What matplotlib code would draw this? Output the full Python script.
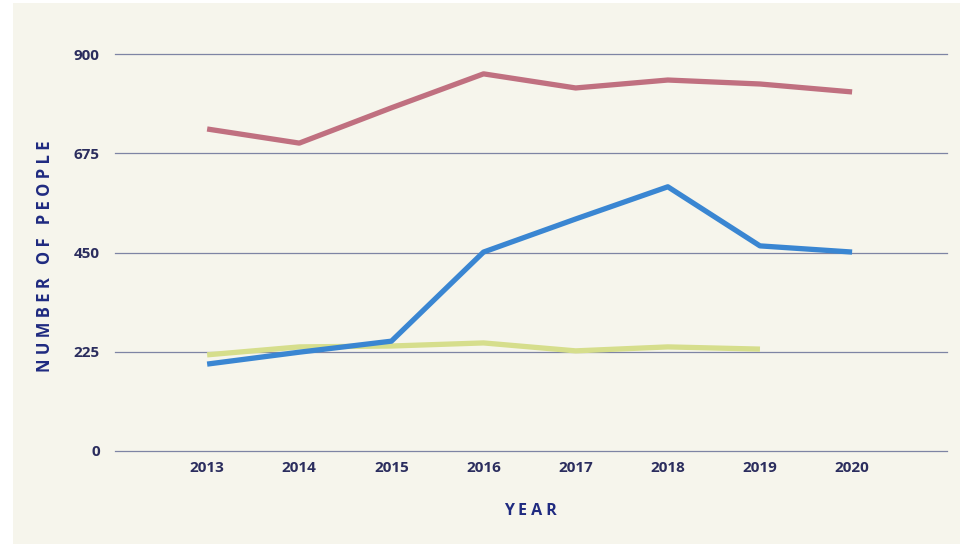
import matplotlib.pyplot as plt
from matplotlib.patches import Rectangle

# --- data ---
years = [2013, 2014, 2015, 2016, 2017, 2018, 2019, 2020]
red_values = [730, 698, 778, 855, 823, 841, 832, 814]
blue_values = [197, 224, 249, 451, 526, 599, 465, 451]
green_years = [2013, 2014, 2015, 2016, 2017, 2018, 2019]
green_values = [218, 236, 238, 245, 227, 236, 231]
y_ticks = [0, 225, 450, 675, 900]

BG = '#F6F5EC'
TICK_COLOR = '#2B2D5E'
LABEL_COLOR = '#1F2A80'
GRID_COLOR = '#7E84A4'

plt.rcParams['font.family'] = ['Open Sans', 'DejaVu Sans']

fig = plt.figure(figsize=(9.6, 5.44), dpi=100, facecolor='white')
# cream panel, with a thin white strip on the left and top like the scan
fig.patches.append(Rectangle((13 / 960, 0), 1, 1 - 3 / 544, transform=fig.transFigure,
                             facecolor=BG, edgecolor='none', zorder=-10))

ax = fig.add_axes([115 / 960, (544 - 451) / 544, (947 - 115) / 960, (451 - 54) / 544])
ax.set_facecolor('none')

ax.plot(green_years, green_values, color='#D6DE8C', linewidth=3.8, solid_capstyle='butt', zorder=3)
ax.plot(years, blue_values, color='#3A86D2', linewidth=3.8, solid_capstyle='butt', zorder=4)
ax.plot(years, red_values, color='#C07080', linewidth=3.8, solid_capstyle='butt', zorder=4)

ax.set_xlim(2012.0, 2021.03)
ax.set_ylim(0, 900)
ax.set_xticks(years)
ax.set_yticks(y_ticks)
ax.set_xticklabels([str(y) for y in years], fontsize=11, fontweight='bold', color=TICK_COLOR)
ax.set_yticklabels([str(v) for v in y_ticks], fontsize=11, fontweight='bold', color=TICK_COLOR)
ax.tick_params(axis='both', length=0)
ax.tick_params(axis='y', pad=11)
ax.tick_params(axis='x', pad=7)

ax.grid(axis='y', color=GRID_COLOR, linewidth=0.9, zorder=1)
for gl in ax.get_ygridlines():
    gl.set_clip_on(False)
ax.set_axisbelow(True)
for side in ['top', 'right', 'left', 'bottom']:
    ax.spines[side].set_visible(False)

fig.text(45 / 960, 1 - 256 / 544, 'N U M B E R   O F   P E O P L E', rotation=90,
         ha='center', va='center', fontsize=12, fontweight='bold', color=LABEL_COLOR)
fig.text(530 / 960, 1 - 511 / 544, 'Y E A R', ha='center', va='center',
         fontsize=11.5, fontweight='bold', color=LABEL_COLOR)

fig.savefig('out.png', dpi=100, facecolor=fig.get_facecolor())
